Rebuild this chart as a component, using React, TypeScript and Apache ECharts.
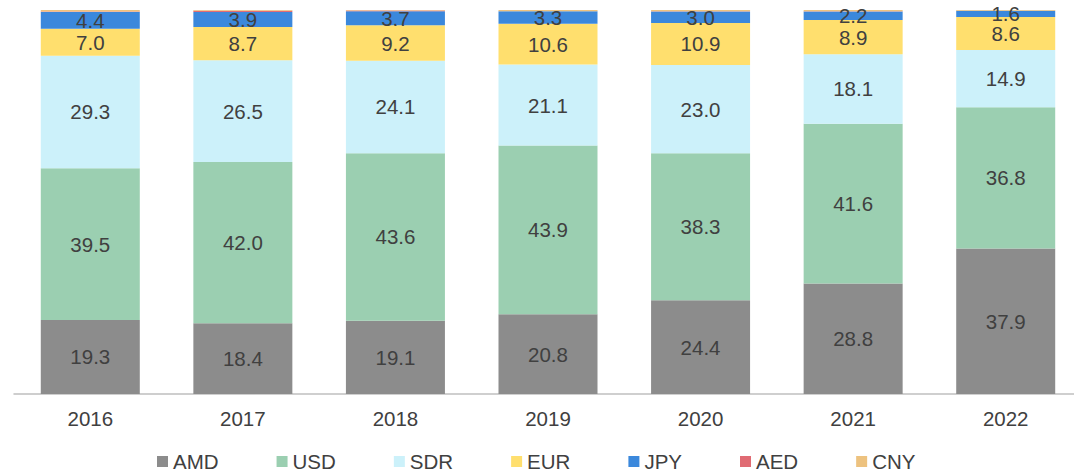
import React, { useEffect, useRef } from "react";
import * as echarts from "echarts";

const years = ["2016", "2017", "2018", "2019", "2020", "2021", "2022"];
const amd = [19.3, 18.4, 19.1, 20.8, 24.4, 28.8, 37.9];
const usd = [39.5, 42.0, 43.6, 43.9, 38.3, 41.6, 36.8];
const sdr = [29.3, 26.5, 24.1, 21.1, 23.0, 18.1, 14.9];
const eur = [7.0, 8.7, 9.2, 10.6, 10.9, 8.9, 8.6];
const jpy = [4.4, 3.9, 3.7, 3.3, 3.0, 2.2, 1.6];
const aed = [0.1, 0.3, 0.2, 0.0, 0.1, 0.1, 0.0];
const cny = [0.4, 0.2, 0.1, 0.3, 0.3, 0.3, 0.2];

const seriesDefs = [
  { name: "AMD", data: amd, color: "#8c8c8c", label: true },
  { name: "USD", data: usd, color: "#9bcfb1", label: true },
  { name: "SDR", data: sdr, color: "#ccf1fa", label: true },
  { name: "EUR", data: eur, color: "#ffdf6e", label: true },
  { name: "JPY", data: jpy, color: "#3b88dc", label: true },
  { name: "AED", data: aed, color: "#e06b73", label: false },
  { name: "CNY", data: cny, color: "#edc27f", label: false },
];

const FONT = "'Liberation Sans', Arial, sans-serif";
const TEXT = "#404040";
const FS = 20.5;

export default function App() {
  const ref = useRef<HTMLDivElement>(null);
  useEffect(() => {
    document.body.style.margin = "0";
    document.body.style.overflow = "hidden";
    const chart = echarts.init(ref.current!, null, { renderer: "svg" });
    chart.setOption({
      animation: false,
      textStyle: { fontFamily: FONT },
      grid: { left: 14, right: 0, top: 10, bottom: 78 },
      legend: {
        left: 157,
        top: 451,
        padding: 0,
        itemWidth: 11,
        itemHeight: 11,
        itemGap: 58,
        icon: "rect",
        textStyle: { fontSize: FS, color: TEXT, fontFamily: FONT, padding: [0, 0, 0, 0] },
        data: seriesDefs.map((s) => s.name),
      },
      xAxis: {
        type: "category",
        data: years,
        axisLine: { lineStyle: { color: "#bfbfbf", width: 1.5 } },
        axisTick: { length: 6, lineStyle: { color: "#bfbfbf", width: 1.5 } },
        axisLabel: { fontSize: FS, color: TEXT, margin: 14, fontFamily: FONT },
      },
      yAxis: {
        type: "value",
        min: 0,
        max: 100,
        show: false,
        splitLine: { show: false },
      },
      series: seriesDefs.map((s) => ({
        name: s.name,
        type: "bar",
        stack: "total",
        data: s.data,
        barWidth: 99,
        itemStyle: { color: s.color },
        label: {
          show: s.label,
          position: "inside",
          fontSize: FS,
          color: TEXT,
          fontFamily: FONT,
          formatter: (p: any) => Number(p.value).toFixed(1),
        },
      })),
    });
    return () => chart.dispose();
  }, []);
  return <div ref={ref} style={{ width: 1082, height: 472 }} />;
}
